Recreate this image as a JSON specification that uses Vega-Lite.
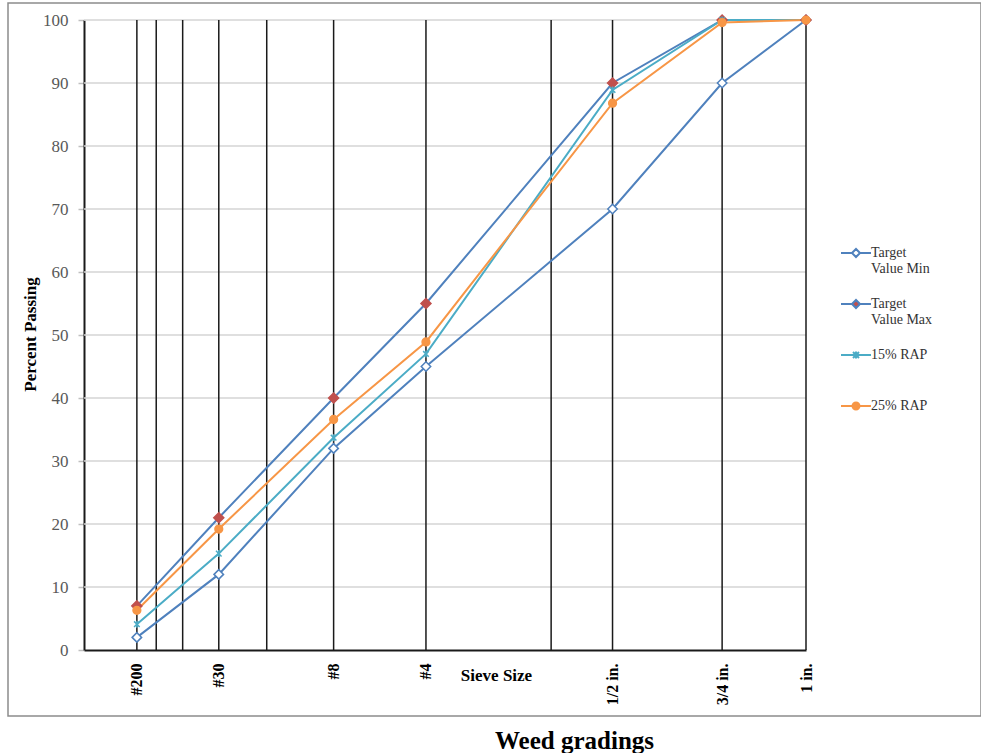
{
  "$schema": "https://vega.github.io/schema/vega-lite/v6.json",
  "width": 973,
  "height": 713,
  "autosize": {"type": "none"},
  "padding": {"left": 8, "top": 3, "right": 0, "bottom": 37},
  "background": "white",
  "config": {
    "font": "Liberation Serif",
    "view": {"stroke": "#8c8c8c", "strokeWidth": 1.5}
  },
  "title": {
    "text": "Weed gradings",
    "orient": "bottom",
    "anchor": "middle",
    "dx": 80,
    "offset": 13,
    "font": "Liberation Serif",
    "fontSize": 25,
    "fontWeight": "bold",
    "color": "black"
  },
  "datasets": {
    "grad": [
      {"series": "Target Value Min", "sieve": "#200", "size": 0.075, "passing": 2},
      {"series": "Target Value Min", "sieve": "#30", "size": 0.6, "passing": 12},
      {"series": "Target Value Min", "sieve": "#8", "size": 2.36, "passing": 32},
      {"series": "Target Value Min", "sieve": "#4", "size": 4.75, "passing": 45},
      {"series": "Target Value Min", "sieve": "1/2 in.", "size": 12.5, "passing": 70},
      {"series": "Target Value Min", "sieve": "3/4 in.", "size": 19, "passing": 90},
      {"series": "Target Value Min", "sieve": "1 in.", "size": 25, "passing": 100},
      {"series": "Target Value Max", "sieve": "#200", "size": 0.075, "passing": 7},
      {"series": "Target Value Max", "sieve": "#30", "size": 0.6, "passing": 21},
      {"series": "Target Value Max", "sieve": "#8", "size": 2.36, "passing": 40},
      {"series": "Target Value Max", "sieve": "#4", "size": 4.75, "passing": 55},
      {"series": "Target Value Max", "sieve": "1/2 in.", "size": 12.5, "passing": 90},
      {"series": "Target Value Max", "sieve": "3/4 in.", "size": 19, "passing": 100},
      {"series": "Target Value Max", "sieve": "1 in.", "size": 25, "passing": 100},
      {"series": "15% RAP", "sieve": "#200", "size": 0.075, "passing": 4.1},
      {"series": "15% RAP", "sieve": "#30", "size": 0.6, "passing": 15.3},
      {"series": "15% RAP", "sieve": "#8", "size": 2.36, "passing": 33.7},
      {"series": "15% RAP", "sieve": "#4", "size": 4.75, "passing": 47.0},
      {"series": "15% RAP", "sieve": "1/2 in.", "size": 12.5, "passing": 88.9},
      {"series": "15% RAP", "sieve": "3/4 in.", "size": 19, "passing": 100},
      {"series": "15% RAP", "sieve": "1 in.", "size": 25, "passing": 100},
      {"series": "25% RAP", "sieve": "#200", "size": 0.075, "passing": 6.3},
      {"series": "25% RAP", "sieve": "#30", "size": 0.6, "passing": 19.2},
      {"series": "25% RAP", "sieve": "#8", "size": 2.36, "passing": 36.6},
      {"series": "25% RAP", "sieve": "#4", "size": 4.75, "passing": 48.9},
      {"series": "25% RAP", "sieve": "1/2 in.", "size": 12.5, "passing": 86.8},
      {"series": "25% RAP", "sieve": "3/4 in.", "size": 19, "passing": 99.6},
      {"series": "25% RAP", "sieve": "1 in.", "size": 25, "passing": 100}
    ],
    "grid": [
      {"pct": 10}, {"pct": 20}, {"pct": 30}, {"pct": 40}, {"pct": 50},
      {"pct": 60}, {"pct": 70}, {"pct": 80}, {"pct": 90}, {"pct": 100}
    ],
    "sieves": [
      {"size": 0.075}, {"size": 0.15}, {"size": 0.3}, {"size": 0.6}, {"size": 1.18},
      {"size": 2.36}, {"size": 4.75}, {"size": 9.5}, {"size": 12.5}, {"size": 19}, {"size": 25}
    ]
  },
  "layer": [
    {
      "data": {"name": "grid"},
      "mark": {"type": "rule", "color": "#d4d4d4", "strokeWidth": 1.5},
      "encoding": {
        "y": {"field": "pct", "type": "quantitative"},
        "x": {"datum": 0, "type": "quantitative"},
        "x2": {"datum": 25}
      }
    },
    {
      "data": {"name": "sieves"},
      "mark": {"type": "rule", "color": "#1a1a1a", "strokeWidth": 1.5},
      "encoding": {
        "x": {"field": "size", "type": "quantitative"},
        "y": {"datum": 0, "type": "quantitative"},
        "y2": {"datum": 100}
      }
    },
    {
      "data": {"name": "grad"},
      "mark": {"type": "line", "strokeWidth": 2},
      "encoding": {
        "x": {
          "field": "size",
          "type": "quantitative",
          "scale": {"type": "pow", "exponent": 0.45, "domain": [0, 25], "range": [76, 798], "nice": false},
          "axis": {
            "orient": "bottom",
            "offset": -66,
            "values": [0.075, 0.6, 2.36, 4.75, 12.5, 19, 25],
            "labelExpr": "datum.value == 0.075 ? '#200' : datum.value == 0.6 ? '#30' : datum.value == 2.36 ? '#8' : datum.value == 4.75 ? '#4' : datum.value == 12.5 ? '1/2 in.' : datum.value == 19 ? '3/4 in.' : datum.value == 25 ? '1 in.' : ''",
            "labelAngle": -90,
            "labelFont": "Liberation Serif",
            "labelFontSize": 16,
            "labelFontWeight": "bold",
            "labelColor": "black",
            "labelPadding": 13,
            "labelOverlap": false,
            "ticks": false,
            "grid": false,
            "domainColor": "#1a1a1a",
            "domainWidth": 2,
            "title": "Sieve Size",
            "titleFont": "Liberation Serif",
            "titleFontSize": 17,
            "titleFontWeight": "bold",
            "titleColor": "black",
            "titleX": 488,
            "titleY": 25,
            "titleAlign": "center",
            "titleBaseline": "middle"
          }
        },
        "y": {
          "field": "passing",
          "type": "quantitative",
          "scale": {"domain": [0, 100], "range": [647, 17], "nice": false},
          "axis": {
            "orient": "left",
            "offset": -76,
            "values": [0, 10, 20, 30, 40, 50, 60, 70, 80, 90, 100],
            "labelFont": "Liberation Serif",
            "labelFontSize": 17,
            "labelColor": "#595959",
            "labelPadding": 10,
            "tickSize": 6,
            "tickColor": "#bfbfbf",
            "tickWidth": 1.5,
            "grid": false,
            "domainColor": "#1a1a1a",
            "domainWidth": 2,
            "title": "Percent Passing",
            "titleFont": "Liberation Serif",
            "titleFontSize": 17,
            "titleFontWeight": "bold",
            "titleColor": "black",
            "titleAngle": 270,
            "titleX": -54,
            "titleY": 331,
            "titleAlign": "center",
            "titleBaseline": "middle"
          }
        },
        "detail": {"field": "series", "type": "nominal"},
        "color": {
          "condition": [
            {"test": "datum.series == '15% RAP'", "value": "#4BACC6"},
            {"test": "datum.series == '25% RAP'", "value": "#F79646"}
          ],
          "value": "#4F81BD"
        }
      }
    },
    {
      "data": {"name": "grad"},
      "mark": {"type": "point", "opacity": 1, "strokeWidth": 1.5},
      "encoding": {
        "x": {"field": "size", "type": "quantitative"},
        "y": {"field": "passing", "type": "quantitative"},
        "shape": {
          "condition": [
            {"test": "datum.series == '15% RAP'", "value": "M-0.8,-0.8L0.8,0.8M-0.8,0.8L0.8,-0.8M0,-1V1"},
            {"test": "datum.series == '25% RAP'", "value": "circle"}
          ],
          "value": "diamond"
        },
        "size": {
          "condition": [
            {"test": "datum.series == 'Target Value Min'", "value": 90},
            {"test": "datum.series == 'Target Value Max'", "value": 100},
            {"test": "datum.series == '15% RAP'", "value": 49}
          ],
          "value": 60
        },
        "fill": {
          "condition": [
            {"test": "datum.series == 'Target Value Min'", "value": "white"},
            {"test": "datum.series == 'Target Value Max'", "value": "#C0504D"},
            {"test": "datum.series == '15% RAP'", "value": "transparent"}
          ],
          "value": "#F79646"
        },
        "stroke": {
          "condition": [
            {"test": "datum.series == 'Target Value Min'", "value": "#4F81BD"},
            {"test": "datum.series == 'Target Value Max'", "value": "#C0504D"},
            {"test": "datum.series == '15% RAP'", "value": "#4BACC6"}
          ],
          "value": "#F79646"
        }
      }
    },
    {
      "data": {"values": []},
      "mark": {"type": "point", "opacity": 1, "filled": true, "strokeWidth": 2},
      "encoding": {
        "x": {"field": "size", "type": "quantitative"},
        "y": {"field": "passing", "type": "quantitative"},
        "shape": {
          "field": "series",
          "type": "nominal",
          "scale": {
            "domain": ["Target Value Min", "Target Value Max", "15% RAP", "25% RAP"],
            "range": [
              "M-3,0H-0.8M0.8,0H3M-0.8,0L0,-0.8L0.8,0L0,0.8Z",
              "M-3,0H-0.8M0.8,0H3M-0.8,0L0,-0.8L0.8,0L0,0.8Z",
              "M-3,0H3M-0.6,-0.6L0.6,0.6M-0.6,0.6L0.6,-0.6M0,-0.7V0.7",
              "M-3,0H-0.7M0.7,0H3M-0.7,0A0.7,0.7 0 1,0 0.7,0A0.7,0.7 0 1,0 -0.7,0Z"
            ]
          },
          "legend": {
            "orient": "none", "legendX": 841, "legendY": 243, "title": null, "padding": 0,
            "symbolSize": 100, "symbolStrokeWidth": 2, "rowPadding": 20, "labelOffset": 8,
            "labelFont": "Liberation Serif", "labelFontSize": 14, "labelColor": "#333333",
            "labelBaseline": "middle", "labelLimit": 200,
            "labelExpr": "datum.label == 'Target Value Min' ? ['Target', 'Value Min'] : datum.label == 'Target Value Max' ? ['Target', 'Value Max'] : [datum.label, ' ']"
          }
        },
        "fill": {
          "field": "series",
          "type": "nominal",
          "scale": {
            "domain": ["Target Value Min", "Target Value Max", "15% RAP", "25% RAP"],
            "range": ["white", "#C0504D", "transparent", "#F79646"]
          },
          "legend": {
            "orient": "none", "legendX": 841, "legendY": 243, "title": null, "padding": 0,
            "symbolSize": 100, "symbolStrokeWidth": 2, "rowPadding": 20, "labelOffset": 8,
            "labelFont": "Liberation Serif", "labelFontSize": 14, "labelColor": "#333333",
            "labelBaseline": "middle", "labelLimit": 200,
            "labelExpr": "datum.label == 'Target Value Min' ? ['Target', 'Value Min'] : datum.label == 'Target Value Max' ? ['Target', 'Value Max'] : [datum.label, ' ']"
          }
        },
        "stroke": {
          "field": "series",
          "type": "nominal",
          "scale": {
            "domain": ["Target Value Min", "Target Value Max", "15% RAP", "25% RAP"],
            "range": ["#4F81BD", "#4F81BD", "#4BACC6", "#F79646"]
          },
          "legend": {
            "orient": "none", "legendX": 841, "legendY": 243, "title": null, "padding": 0,
            "symbolSize": 100, "symbolStrokeWidth": 2, "rowPadding": 20, "labelOffset": 8,
            "labelFont": "Liberation Serif", "labelFontSize": 14, "labelColor": "#333333",
            "labelBaseline": "middle", "labelLimit": 200,
            "labelExpr": "datum.label == 'Target Value Min' ? ['Target', 'Value Min'] : datum.label == 'Target Value Max' ? ['Target', 'Value Max'] : [datum.label, ' ']"
          }
        }
      }
    }
  ]
}
